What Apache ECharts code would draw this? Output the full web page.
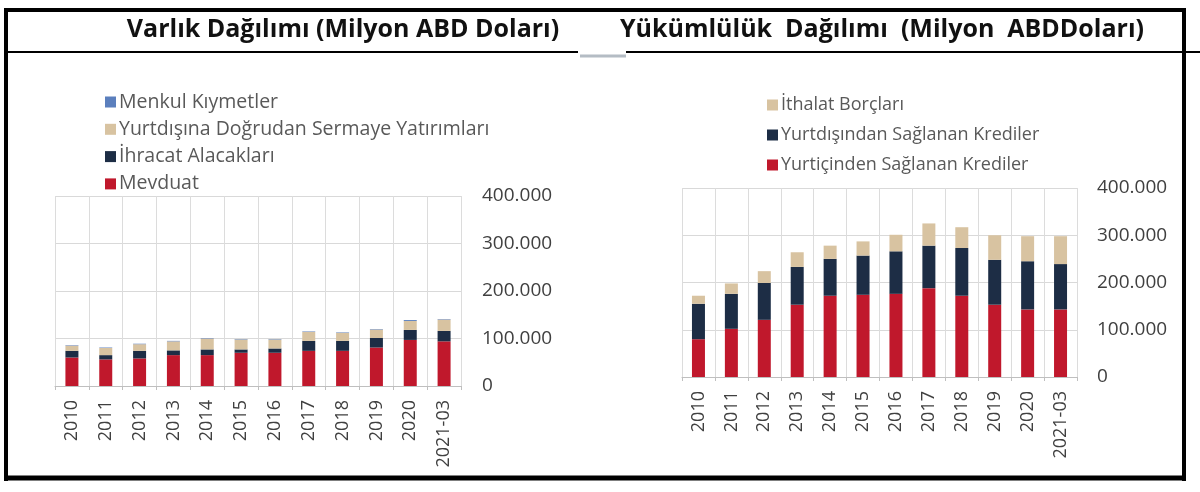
<!DOCTYPE html>
<html>
<head>
<meta charset="utf-8">
<script src="https://cdn.jsdelivr.net/npm/echarts@6/dist/echarts.min.js"></script>
<style>html,body{margin:0;padding:0;background:#fff}#c{width:1200px;height:492px}</style>
</head>
<body>
<div id="c"></div>
<script>
var categories = ['2010','2011','2012','2013','2014','2015','2016','2017','2018','2019','2020','2021-03'];
var yTicks = [0, 100000, 200000, 300000, 400000];

// Varlık Dağılımı (Milyon ABD Doları)
var mevduat       = [60000, 56000, 58000, 65000, 65000, 70000, 70000, 74000, 74000, 81000, 97000, 94000];
var ihracat       = [14000,  9000, 16000, 10000, 12000,  7000,  9000, 21000, 21000, 20000, 21000, 22000];
var yurtdisinaDSY = [11000, 15000, 14000, 19000, 23000, 21000, 19000, 19000, 17000, 18000, 19000, 24000];
var menkul        = [ 1000,  1000,  1000,  1000,  1000,  1000,  1000,  1000,  1000,  1000,  2000,  1000];

// Yükümlülük Dağılımı (Milyon ABD Doları)
var yurticiKredi  = [80000, 102000, 121000, 153000, 172000, 174000, 176000, 188000, 172000, 153000, 143000, 143000];
var yurtdisiKredi = [75000,  74000,  78000,  80000,  78000,  83000,  90000,  90000, 101000,  95000, 102000,  96000];
var ithalatBorc   = [17000,  22000,  25000,  31000,  28000,  30000,  35000,  47000,  44000,  52000,  53000,  59000];

var C_RED = '#c0182c', C_NAVY = '#1d2d45', C_TAN = '#d8c3a1', C_BLUE = '#5b7fbd';
var FONT = 'Open Sans';

function fmt(v){ return v === 0 ? '0' : String(v).replace(/\B(?=(\d{3})+(?!\d))/g, '.'); }

function xAxis(gi){
  return {
    type:'category', gridIndex:gi, data:categories, boundaryGap:true,
    axisLine:{show:true, lineStyle:{color:'#bfbfbf', width:1}},
    axisTick:{show:true, length:4, lineStyle:{color:'#bfbfbf'}},
    axisLabel:{rotate:90, fontFamily:FONT, fontSize:18, color:'#404040', margin:14, interval:0},
    splitLine:{show:true, lineStyle:{color:'#dcdcdc', width:1}}
  };
}
function yAxis(gi, margin){
  return {
    type:'value', gridIndex:gi, position:'right', min:0, max:400000, interval:100000,
    axisLine:{show:false}, axisTick:{show:false},
    axisLabel:{fontFamily:FONT, fontSize:19, color:'#404040', margin:margin, formatter:fmt},
    splitLine:{show:true, lineStyle:{color:'#d9d9d9', width:1}}
  };
}
function bar(name, data, color, gi, stack){
  return {name:name, type:'bar', stack:stack, xAxisIndex:gi, yAxisIndex:gi, data:data,
    barWidth:13, itemStyle:{color:color}, emphasis:{disabled:true}};
}

var chart = echarts.init(document.getElementById('c'), null, {renderer:'canvas'});
chart.setOption({
  animation:false,
  backgroundColor:'#ffffff',
  title:[
    {text:'Varlık Dağılımı (Milyon ABD Doları)', left:338, top:12, textAlign:'center',
     textStyle:{fontFamily:FONT, fontWeight:'bold', fontSize:25, color:'#111'}},
    {text:'Yükümlülük  Dağılımı  (Milyon  ABDDoları)', left:877, top:12, textAlign:'center',
     textStyle:{fontFamily:FONT, fontWeight:'bold', fontSize:25, color:'#111'}}
  ],
  legend:[
    {orient:'vertical', left:100, top:87, itemWidth:11, itemHeight:11, itemGap:7.3, icon:'rect',
     data:['Menkul Kıymetler','Yurtdışına Doğrudan Sermaye Yatırımları','İhracat Alacakları','Mevduat'],
     textStyle:{fontFamily:FONT, fontSize:19.5, color:'#595959', lineHeight:20, padding:[0,0,0,-2]}},
    {orient:'vertical', left:762, top:90, itemWidth:11, itemHeight:11, itemGap:10, icon:'rect',
     data:['İthalat Borçları','Yurtdışından Sağlanan Krediler','Yurtiçinden Sağlanan Krediler'],
     textStyle:{fontFamily:FONT, fontSize:18, color:'#595959', lineHeight:20, padding:[0,0,0,-2]}}
  ],
  grid:[
    {left:55, right:739, top:196, bottom:106},
    {left:682, right:123, top:188, bottom:115}
  ],
  xAxis:[xAxis(0), xAxis(1)],
  yAxis:[yAxis(0, 21), yAxis(1, 20)],
  series:[
    bar('Mevduat', mevduat, C_RED, 0, 'a'),
    bar('İhracat Alacakları', ihracat, C_NAVY, 0, 'a'),
    bar('Yurtdışına Doğrudan Sermaye Yatırımları', yurtdisinaDSY, C_TAN, 0, 'a'),
    bar('Menkul Kıymetler', menkul, C_BLUE, 0, 'a'),
    bar('Yurtiçinden Sağlanan Krediler', yurticiKredi, C_RED, 1, 'b'),
    bar('Yurtdışından Sağlanan Krediler', yurtdisiKredi, C_NAVY, 1, 'b'),
    bar('İthalat Borçları', ithalatBorc, C_TAN, 1, 'b')
  ],
  graphic:[
    {type:'line', shape:{x1:4, y1:10, x2:1186, y2:10}, style:{stroke:'#000', lineWidth:4}, silent:true},
    {type:'line', shape:{x1:6, y1:8, x2:6, y2:481}, style:{stroke:'#000', lineWidth:4}, silent:true},
    {type:'line', shape:{x1:1184, y1:8, x2:1184, y2:481}, style:{stroke:'#000', lineWidth:4}, silent:true},
    {type:'line', shape:{x1:4, y1:478, x2:1186, y2:478}, style:{stroke:'#000', lineWidth:5}, silent:true},
    {type:'line', shape:{x1:6, y1:52, x2:578, y2:52}, style:{stroke:'#000', lineWidth:2}, silent:true},
    {type:'line', shape:{x1:580, y1:56, x2:626, y2:56}, style:{stroke:'#b4bcc4', lineWidth:3}, silent:true},
    {type:'line', shape:{x1:626, y1:52, x2:1200, y2:52}, style:{stroke:'#000', lineWidth:2}, silent:true}
  ]
});
</script>
</body>
</html>
